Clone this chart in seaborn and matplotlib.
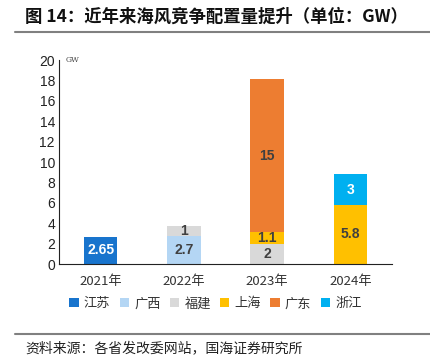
import matplotlib
matplotlib.use("Agg")
import matplotlib.pyplot as plt
import seaborn as sns
import numpy as np
import pandas as pd
from matplotlib.patches import Patch
from matplotlib.lines import Line2D

years = ["2021年", "2022年", "2023年", "2024年"]
provinces = ["江苏", "广西", "福建", "上海", "广东", "浙江"]
jiangsu = [2.65, 0, 0, 0]
guangxi = [0, 2.7, 0, 0]
fujian = [0, 1, 2, 0]
shanghai = [0, 0, 1.1, 5.8]
guangdong = [0, 0, 15, 0]
zhejiang = [0, 0, 0, 3]
series = [jiangsu, guangxi, fujian, shanghai, guangdong, zhejiang]
colors = ["#1874CD", "#B4D6F4", "#D9D9D9", "#FFC000", "#ED7D31", "#00B0F0"]
label_colors = ["white", "#404040", "#404040", "#404040", "#404040", "white"]
yticks = list(range(0, 21, 2))

sns.set_style("white")
plt.rcParams['font.family'] = ['Noto Sans CJK SC', 'DejaVu Sans']

fig = plt.figure(figsize=(4.31, 3.63), dpi=100)
ax = fig.add_axes([0.137, 0.2727, 0.7725, 0.562])

bottom = np.zeros(len(years))
for name, vals, col, lc in zip(provinces, series, colors, label_colors):
    df = pd.DataFrame({"year": years, "val": vals})
    sns.barplot(data=df, x="year", y="val", order=years, color=col,
                width=0.4, bottom=bottom, ax=ax, saturation=1, errorbar=None,
                edgecolor="none", linewidth=0)
    for i, v in enumerate(vals):
        if v > 0:
            ax.text(i, bottom[i] + v / 2, f"{v:g}", ha="center", va="center",
                    fontsize=10, fontweight="bold", color=lc,
                    family=["Liberation Sans", "DejaVu Sans"])
    bottom = bottom + np.array(vals)

ax.set_xlim(-0.5, 3.5)
ax.set_ylim(0, 20)
ax.set_yticks(yticks)
ax.set_yticklabels([str(t) for t in yticks], family=["Liberation Sans"], fontsize=10, color="#222222")
ax.set_xlabel("")
ax.set_ylabel("")
ax.tick_params(axis="y", direction="in", length=4, width=0.8, color="#222222", pad=3)
ax.tick_params(axis="x", which="major", length=0, pad=8, labelsize=9.5, labelcolor="#333333")
ax.set_xticks([0.5, 1.5, 2.5, 3.5], minor=True)
ax.tick_params(axis="x", which="minor", direction="in", length=4, width=0.8, color="#222222")
for s in ["top", "right"]:
    ax.spines[s].set_visible(False)
for s in ["left", "bottom"]:
    ax.spines[s].set_color("#222222")
    ax.spines[s].set_linewidth(0.8)
ax.text(0.02, 1.0, "GW", transform=ax.transAxes, fontsize=5.5, color="#444444",
        va="center", ha="left", family=["DejaVu Serif"])

handles = [Patch(facecolor=c, edgecolor="none") for c in colors]
fig.legend(handles, provinces, loc="center", bbox_to_anchor=(0.5, 0.163), ncol=6,
           frameon=False, fontsize=9.5, handlelength=0.7, handleheight=0.7,
           handletextpad=0.4, columnspacing=0.7, labelcolor="#333333")

fig.text(0.058, 0.955, "图 14：近年来海风竞争配置量提升（单位：GW）", fontsize=12.5,
         fontweight="bold", ha="left", va="center", color="#111111")
fig.add_artist(Line2D([0.035, 1.0], [0.912, 0.912], color="#808080", lw=1.5))
fig.add_artist(Line2D([0.035, 1.0], [0.08, 0.08], color="#808080", lw=1.5))
fig.text(0.058, 0.04, "资料来源：各省发改委网站，国海证券研究所", fontsize=10,
         ha="left", va="center", color="#222222")

fig.savefig("out.png", dpi=100)
